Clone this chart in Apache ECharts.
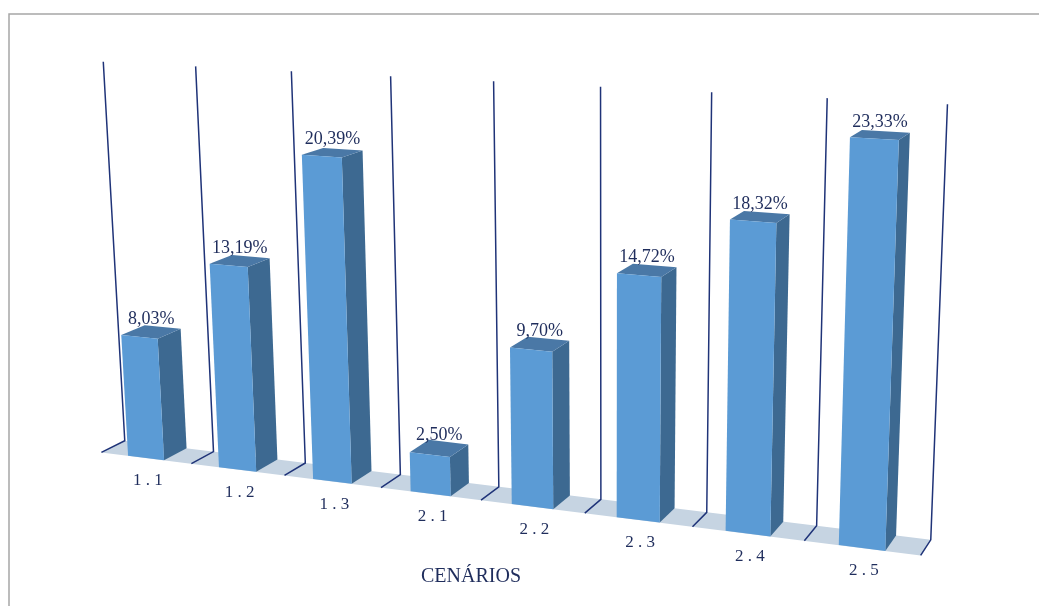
<!DOCTYPE html>
<html>
<head>
<meta charset="utf-8">
<title>Cenários</title>
<script src="https://cdn.jsdelivr.net/npm/echarts@6/dist/echarts.min.js"></script>
<style>
  html, body { margin: 0; padding: 0; background: #fff; }
  #chart { width: 1039px; height: 606px; }
</style>
</head>
<body>
<div id="chart"></div>
<script>
const categories = ["1.1", "1.2", "1.3", "2.1", "2.2", "2.3", "2.4", "2.5"];
const values = [8.03, 13.19, 20.39, 2.5, 9.7, 14.72, 18.32, 23.33];
const axisMin = 0;
const axisMax = 25;
const axisTitle = "CENÁRIOS";

// simple 3d camera (turned to the left, looking down a bit)
const F = 2080, CX = 608, CY = 300;
const yaw = (20.6 * Math.PI) / 180;
const pitch = (13.5 * Math.PI) / 180;
const O = [-4.417, -1.5106, 19.886];
const H = 0.149; // world height for 1%
const HALF_W = 0.2; // half bar width (in categories)
const DEPTH = 0.4; // bar / floor depth

const EX = [Math.cos(yaw), -Math.sin(yaw) * Math.sin(pitch), -Math.sin(yaw) * Math.cos(pitch)];
const EY = [0, Math.cos(pitch), -Math.sin(pitch)];
const EZ = [Math.sin(yaw), Math.cos(yaw) * Math.sin(pitch), Math.cos(yaw) * Math.cos(pitch)];

function project(X, v, Z) {
  const Y = v * H;
  const p = [0, 1, 2].map((k) => O[k] + X * EX[k] + Y * EY[k] + Z * EZ[k]);
  return [CX + (F * p[0]) / p[2], CY - (F * p[1]) / p[2]];
}

// pixel from the hidden grid -> category position / value
function toWorld(pt, cs) {
  const band = cs.width / categories.length;
  return {
    X: (pt[0] - cs.x) / band - 0.5,
    v: ((cs.y + cs.height - pt[1]) / cs.height) * (axisMax - axisMin) + axisMin,
  };
}

const textColor = "#1f2d5c";
const lineColor = "#1f3378";

function renderFrame(params, api) {
  const cs = params.coordSys;
  const first = toWorld(api.coord([0, axisMin]), cs).X - 0.5;
  const last = toWorld(api.coord([categories.length - 1, axisMin]), cs).X + 0.5;
  const top = toWorld(api.coord([0, api.value(1)]), cs).v;
  const children = [];
  // floor
  children.push({
    type: "polygon",
    shape: {
      points: [project(first, 0, 0), project(last, 0, 0), project(last, 0, DEPTH), project(first, 0, DEPTH)],
    },
    style: { fill: "#c6d4e2" },
  });
  // separators on the back + small floor lines
  for (let i = 0; i <= categories.length; i++) {
    const X = first + i;
    children.push({
      type: "polyline",
      shape: { points: [project(X, top, DEPTH), project(X, 0, DEPTH), project(X, 0, 0)] },
      style: { stroke: lineColor, lineWidth: 1.5, fill: null },
    });
  }
  return { type: "group", children };
}

function renderBar(params, api) {
  const cs = params.coordSys;
  const base = toWorld(api.coord([api.value(0), axisMin]), cs);
  const v = toWorld(api.coord([api.value(0), api.value(1)]), cs).v;
  const X = base.X;
  const l = X - HALF_W, r = X + HALF_W;
  const fl0 = project(l, 0, 0), fr0 = project(r, 0, 0);
  const fl1 = project(l, v, 0), fr1 = project(r, v, 0);
  const br0 = project(r, 0, DEPTH), br1 = project(r, v, DEPTH), bl1 = project(l, v, DEPTH);
  const labelPt = project(X, v, DEPTH / 2);
  const catPt = project(X, 0, 0);
  return {
    type: "group",
    children: [
      { type: "polygon", shape: { points: [fr0, br0, br1, fr1] }, style: { fill: "#3d6991" } },
      { type: "polygon", shape: { points: [fl1, fr1, br1, bl1] }, style: { fill: "#4a78a6" } },
      { type: "polygon", shape: { points: [fl0, fr0, fr1, fl1] }, style: { fill: "#5b9bd5" } },
      {
        type: "text",
        x: labelPt[0],
        y: labelPt[1] - 4,
        style: {
          text: api.value(1).toFixed(2).replace(".", ",") + "%",
          font: '18px "Liberation Serif"',
          fill: textColor,
          align: "center",
          verticalAlign: "bottom",
        },
      },
      {
        type: "text",
        x: catPt[0] + 2,
        y: catPt[1] + 23,
        style: {
          text: categories[api.value(0)].split("").join(" "),
          font: '17px "Liberation Serif"',
          fill: textColor,
          align: "center",
          verticalAlign: "middle",
        },
      },
    ],
  };
}

const chart = echarts.init(document.getElementById("chart"));
chart.setOption({
  animation: false,
  grid: { left: 100, right: 100, top: 100, bottom: 100 },
  xAxis: { type: "category", data: categories, show: false },
  yAxis: { type: "value", min: axisMin, max: axisMax, show: false },
  graphic: [
    {
      type: "rect",
      x: 9,
      y: 14,
      shape: { width: 1100, height: 700 },
      style: { fill: "none", stroke: "#a6a6a6", lineWidth: 1.5 },
      silent: true,
    },
    {
      type: "text",
      x: 471,
      y: 577,
      style: {
        text: axisTitle,
        font: '20px "Liberation Serif"',
        fill: textColor,
        align: "center",
        verticalAlign: "middle",
      },
      silent: true,
    },
  ],
  series: [
    {
      type: "custom",
      silent: true,
      renderItem: renderFrame,
      data: [[0, axisMax]],
      encode: { x: 0, y: 1 },
    },
    {
      type: "custom",
      silent: true,
      renderItem: renderBar,
      data: values.map((v, i) => [i, v]),
      encode: { x: 0, y: 1 },
    },
  ],
});
</script>
</body>
</html>
